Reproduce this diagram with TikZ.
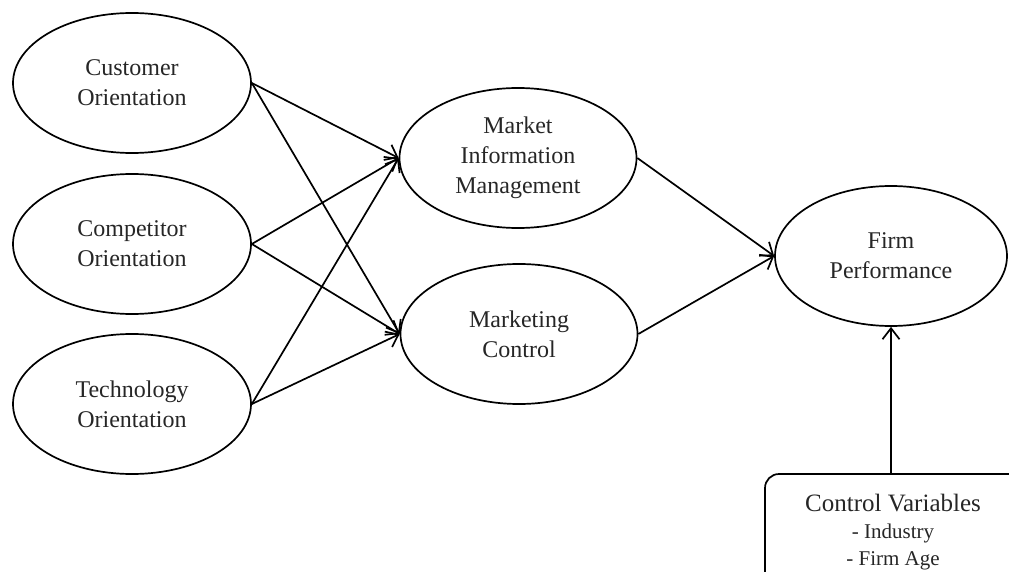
\documentclass[tikz,border=0pt]{standalone}
\usepackage{fontspec}
\setmainfont{Liberation Serif}
\usetikzlibrary{arrows.meta,shapes.geometric}
\begin{document}
\begin{tikzpicture}[x=1pt,y=-1pt,
  construct/.style={draw, line width=1.7pt, ellipse, minimum width=#1, minimum height=140pt,
    inner sep=0pt, align=center, font=\fontsize{24}{30}\selectfont, text=black!85},
  construct/.default=238pt,
  link/.style={line width=1.7pt, -{Straight Barb[length=11pt,width=17pt,line width=1.7pt]}},
  ctrltext/.style={text=black!85, align=center}]
\useasboundingbox (0,0) rectangle (1009,572);
\begin{scope}
\clip (0,0) rectangle (1009,572);
% exogenous orientations
\node[construct] (cust) at (132,83)  {Customer\\Orientation};
\node[construct] (comp) at (132,244) {Competitor\\Orientation};
\node[construct] (tech) at (132,404) {Technology\\Orientation};
% mediators
\node[construct=237pt] (mim) at (518,158) {Market\\Information\\Management};
\node[construct=237pt] (mc)  at (519,334) {Marketing\\Control};
% outcome
\node[construct=232pt] (fp)  at (891,256) {Firm\\Performance};
% control variables box, running off the page edge
\draw[line width=1.7pt, rounded corners=14pt] (765,600) -- (765,474) -- (1040,474);
\coordinate (ctrl) at (891,474);
\node[ctrltext, font=\fontsize{25}{30}\selectfont] (ctrlhead) at (893,503) {Control Variables};
\node[ctrltext, font=\fontsize{21}{27}\selectfont] (ctrlitems) at (893,547) {- Industry\\- Firm Age};
% paths
\draw[link] (cust.east) -- (mim.west);
\draw[link] (cust.east) -- (mc.west);
\draw[link] (comp.east) -- (mim.west);
\draw[link] (comp.east) -- (mc.west);
\draw[link] (tech.east) -- (mim.west);
\draw[link] (tech.east) -- (mc.west);
\draw[link] (mim.east) -- (fp.west);
\draw[link] (mc.east) -- (fp.west);
\draw[link] (ctrl) -- (fp.south);
\end{scope}
\end{tikzpicture}
\end{document}
